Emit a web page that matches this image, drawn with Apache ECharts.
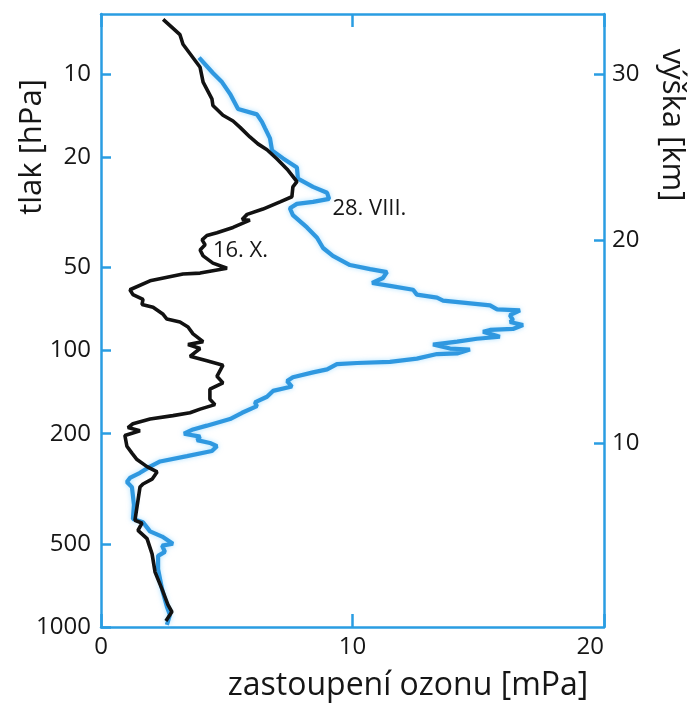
<!DOCTYPE html>
<html>
<head>
<meta charset="utf-8">
<script src="https://cdn.jsdelivr.net/npm/echarts@6/dist/echarts.min.js"></script>
<style>
  html, body { margin: 0; padding: 0; background: #fff; }
  #chart { width: 691px; height: 705px; }
</style>
</head>
<body>
<div id="chart"></div>
<script>
// 16. X. profile (black): ozone partial pressure [mPa] vs pressure [hPa]
const blackX = [2.47, 3.14, 3.26, 3.94, 4.06, 4.41, 4.45, 4.85, 5.25, 5.53, 5.92, 6.24, 6.60, 7.00, 7.40, 7.79, 7.63, 7.59, 7.12, 6.44,
  5.81, 5.61, 5.92, 5.25, 4.61, 4.21, 4.02, 4.14, 3.94, 4.06, 4.45, 5.01, 3.94, 3.26, 1.95, 1.15, 1.27, 1.67, 1.63, 2.07,
  2.47, 2.62, 3.14, 3.46, 3.66, 4.06, 3.46, 3.94, 3.54, 4.21, 4.85, 4.61, 4.85, 4.33, 4.33, 4.53, 3.94, 3.54, 2.86, 1.95,
  1.27, 1.07, 1.55, 0.95, 1.03, 1.23, 1.43, 1.83, 2.23, 2.03, 1.67, 1.55, 1.47, 1.35, 1.63, 1.47, 1.83, 2.03, 2.15, 2.43,
  2.66, 2.82, 2.58]
const blackP = [6.35, 7.21, 7.81, 9.46, 10.7, 12.3, 13.0, 14.1, 14.8, 15.6, 16.9, 17.9, 18.8, 20.3, 22.1, 24.5, 25.6, 27.8, 29.0, 30.8,
  32.2, 33.6, 33.8, 35.9, 37.5, 38.4, 39.8, 41.5, 43.3, 45.5, 48.3, 50.4, 52.5, 52.9, 56.0, 60.3, 62.8, 65.4, 68.2, 69.8,
  74.0, 77.0, 78.9, 82.2, 87.1, 92.9, 95.2, 98.4, 105, 109, 113, 124, 131, 138, 150, 157, 163, 168, 172, 177,
  184, 190, 195, 203, 222, 235, 248, 263, 275, 292, 304, 312, 349, 411, 421, 447, 479, 544, 633, 731,
  830, 881, 951]

// 28. VIII. profile (blue)
const blueX = [3.90, 4.45, 4.81, 5.13, 5.45, 6.20, 6.40, 6.52, 6.72, 6.80, 7.24, 7.79, 7.83, 8.43, 8.99, 9.07, 8.43, 7.79, 7.51, 7.63,
  8.19, 8.59, 8.83, 9.22, 9.90, 10.70, 11.37, 11.21, 10.78, 11.49, 12.41, 12.56, 13.36, 13.60, 14.39, 15.47, 15.75, 16.66, 16.26, 16.38,
  16.26, 16.78, 16.38, 15.47, 15.19, 15.86, 14.95, 14.16, 13.20, 13.88, 14.67, 14.16, 13.36, 12.56, 11.49, 10.18, 9.38, 8.99, 8.43, 7.63,
  7.40, 7.59, 6.84, 6.60, 6.12, 6.20, 5.61, 5.13, 4.21, 3.66, 3.30, 3.94, 3.82, 4.33, 4.61, 4.41, 3.42, 2.35, 1.95, 1.55,
  1.15, 1.03, 1.23, 1.31, 1.27, 1.67, 1.95, 2.43, 2.86, 2.43, 2.54, 2.27, 2.27, 2.43, 2.62, 2.74, 2.62]
const blueP = [8.73, 9.92, 10.7, 11.8, 13.4, 14.0, 14.9, 15.7, 17.1, 18.9, 20.2, 21.8, 23.9, 25.6, 26.9, 28.3, 29.0, 29.5, 30.6, 32.4,
  35.9, 39.1, 42.6, 45.5, 49.1, 50.8, 52.1, 54.7, 57.0, 58.4, 60.3, 62.8, 64.4, 66.0, 67.1, 68.7, 71.0, 71.6, 74.5, 77.7,
  78.9, 80.9, 83.6, 84.3, 85.6, 89.2, 90.7, 92.9, 95.2, 98.4, 99.2, 102.5, 103, 107, 110, 111, 112, 117, 120, 125,
  129, 135, 140, 147, 154, 159, 168, 177, 187, 193, 200, 205, 211, 216, 222, 231, 241, 252, 263, 277,
  289, 299, 312, 361, 407, 418, 451, 471, 500, 508, 535, 553, 618, 731, 845, 904, 983]

// tick labels
const pressureTicks = [10, 20, 50, 100, 200, 500, 1000]
const altitudeKm = [10, 20, 30]
const altitudeP = [216, 40, 10] // pressure level where each km tick sits
const ozoneTicks = [0, 10, 20]

// curve annotations (left edge of text)
const noteText = ['28. VIII.', '16. X.']
const noteX = [9.2, 4.45]
const noteP = [30.8, 43.7]

const zip = (xs, ys) => xs.map((x, i) => [x, ys[i]])

const AXIS_BLUE = '#2a9de2'
const TEXT = '#161616'
const tickFont = { fontFamily: 'Open Sans', fontSize: 24, color: TEXT }

const axisLine = () => ({ show: true, onZero: false, lineStyle: { color: AXIS_BLUE, width: 2.5 } })
const axisTick = (len, values) => {
  const t = { show: true, inside: true, length: len, lineStyle: { color: AXIS_BLUE, width: 2.5 } }
  if (values) t.customValues = values
  return t
}

const option = {
  animation: false,
  backgroundColor: '#fff',
  grid: { left: 101, right: 87, top: 14, bottom: 78 },
  xAxis: [
    {
      type: 'value',
      position: 'bottom',
      min: 0,
      max: 20,
      interval: 10,
      splitLine: { show: false },
      axisLine: axisLine(),
      axisTick: axisTick(13),
      axisLabel: Object.assign({ margin: 8, alignMaxLabel: 'right', customValues: ozoneTicks }, tickFont)
    },
    {
      type: 'value',
      position: 'top',
      min: 0,
      max: 20,
      interval: 10,
      splitLine: { show: false },
      axisLine: axisLine(),
      axisTick: axisTick(13),
      axisLabel: { show: false }
    }
  ],
  yAxis: [
    {
      type: 'log',
      logBase: 10,
      inverse: true,
      min: 6.07,
      max: 1000,
      position: 'left',
      splitLine: { show: false },
      axisLine: axisLine(),
      axisTick: axisTick(10, pressureTicks),
      axisLabel: Object.assign({
        margin: 10,
        customValues: pressureTicks,
        formatter: v => String(Math.round(v))
      }, tickFont)
    },
    {
      type: 'log',
      logBase: 10,
      inverse: true,
      min: 6.07,
      max: 1000,
      position: 'right',
      splitLine: { show: false },
      axisLine: axisLine(),
      axisTick: axisTick(10, altitudeP),
      axisLabel: Object.assign({
        margin: 8,
        customValues: altitudeP,
        formatter: v => {
          let best = 0
          altitudeP.forEach((p, i) => {
            if (Math.abs(p - v) < Math.abs(altitudeP[best] - v)) best = i
          })
          return String(altitudeKm[best])
        }
      }, tickFont)
    }
  ],
  series: [
    {
      name: '28. VIII.',
      type: 'line',
      xAxisIndex: 0,
      yAxisIndex: 0,
      symbol: 'none',
      lineStyle: {
        color: '#2f98e0',
        width: 4.2,
        shadowColor: 'rgba(120, 205, 255, 0.6)',
        shadowBlur: 5
      },
      data: zip(blueX, blueP)
    },
    {
      name: '16. X.',
      type: 'line',
      xAxisIndex: 0,
      yAxisIndex: 0,
      symbol: 'none',
      lineStyle: { color: '#121212', width: 3.6 },
      data: zip(blackX, blackP)
    }
  ],
  graphic: [
    {
      id: 'nameLeft',
      type: 'text',
      x: 32,
      y: 147,
      rotation: Math.PI / 2,
      style: { text: 'tlak [hPa]', font: '31px "Open Sans"', fill: TEXT, align: 'center', verticalAlign: 'middle' }
    },
    {
      id: 'nameRight',
      type: 'text',
      x: 672,
      y: 125,
      rotation: -Math.PI / 2,
      style: { text: 'výška [km]', font: '31px "Open Sans"', fill: TEXT, align: 'center', verticalAlign: 'middle' }
    },
    {
      id: 'nameBottom',
      type: 'text',
      x: 408,
      y: 686,
      style: { text: 'zastoupení ozonu [mPa]', font: '32px "Open Sans"', fill: TEXT, align: 'center', verticalAlign: 'middle' }
    }
  ]
}

const myChart = echarts.init(document.getElementById('chart'))
myChart.setOption(option)

// place the curve annotations through the axis scales
myChart.setOption({
  graphic: noteText.map((t, i) => {
    const pt = myChart.convertToPixel({ xAxisIndex: 0, yAxisIndex: 0 }, [noteX[i], noteP[i]])
    return {
      id: 'note' + i,
      type: 'text',
      x: pt[0],
      y: pt[1],
      style: { text: t, font: '22px "Open Sans"', fill: TEXT, align: 'left', verticalAlign: 'middle' }
    }
  })
})

window.onresize = () => {
  myChart.resize()
}
</script>
</body>
</html>
